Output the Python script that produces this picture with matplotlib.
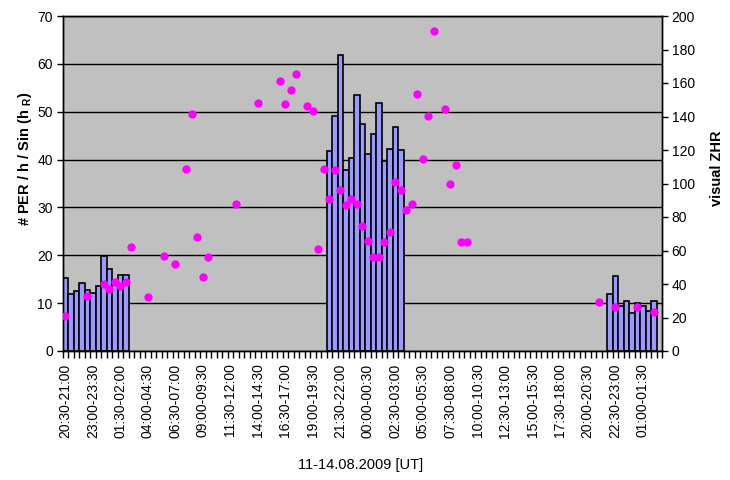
import numpy as np
import matplotlib
matplotlib.use("Agg")
import matplotlib.pyplot as plt

plt.rcParams['font.family'] = ['Liberation Sans', 'DejaVu Sans']
plt.rcParams['mathtext.fontset'] = 'custom'
plt.rcParams['mathtext.rm'] = 'Liberation Sans'
plt.rcParams['mathtext.bf'] = 'Liberation Sans:bold'

# half-hour bins starting 11.08.2009 20:30 UT
n_bins = 109
start_min = 20 * 60 + 30
categories = []
for i in range(n_bins):
    a = (start_min + 30 * i) % 1440
    b = (a + 30) % 1440
    categories.append("%02d:%02d-%02d:%02d" % (a // 60, a % 60, b // 60, b % 60))
label_step = 5

# bars: # PER / h / sin(hR)  (left axis)
bar_bins = [0, 1, 2, 3, 4, 5, 6, 7, 8, 9, 10, 11,
            48, 49, 50, 51, 52, 53, 54, 55, 56, 57, 58, 59, 60, 61,
            99, 100, 101, 102, 103, 104, 105, 106, 107]
per_rate = [15.2, 11.9, 12.5, 14.2, 12.7, 12.1, 13.6, 19.8, 17.1, 14.1, 15.9, 15.9,
            41.7, 49.2, 61.8, 37.8, 40.3, 53.4, 47.4, 41.1, 45.3, 51.8, 39.7, 42.2, 46.9, 41.9,
            11.9, 15.6, 9.3, 10.4, 7.9, 10.0, 9.5, 8.4, 10.4]

# dots: visual ZHR (right axis)
zhr_bins = [0, 4, 7, 8, 9, 10, 11, 12, 15, 18, 20, 22, 23, 24, 25, 26, 31, 35,
            39, 40, 41, 42, 44, 45, 46, 47, 48, 49, 50, 51, 52, 53, 54, 55, 56, 57,
            58, 59, 60, 61, 62, 63, 64, 65, 66, 67, 69, 70, 71, 72, 73,
            97, 100, 104, 107]
zhr = [20.7, 32.7, 40.2, 37.0, 41.2, 38.8, 41.0, 61.9, 32.0, 56.5, 52.0, 108.7, 141.5, 68.0, 44.0, 56.0, 87.8, 148.0,
       161.0, 147.6, 156.0, 165.6, 146.1, 143.1, 61.1, 108.8, 90.7, 108.2, 96.3, 87.3, 90.9, 87.9, 74.4, 65.5, 56.3, 55.9,
       64.9, 70.9, 100.7, 96.3, 84.2, 87.9, 153.4, 114.6, 140.1, 190.9, 144.5, 99.9, 111.0, 64.9, 65.3,
       29.1, 26.1, 26.1, 23.1]

fig = plt.figure(figsize=(7.3, 4.8), dpi=100)
ax = fig.add_axes([62.5 / 730, 1 - 351 / 480, (662 - 62.5) / 730, (351 - 16) / 480])
ax.set_facecolor('#C0C0C0')

ax.bar(bar_bins, per_rate, width=1.0, color='#9999FF', edgecolor='black', linewidth=1.2, zorder=2)
ax.set_xlim(-0.5, n_bins - 0.5)
ax.set_ylim(0, 70)
ax.set_yticks(np.arange(0, 71, 10))
ax.yaxis.grid(True, color='black', linewidth=1.0, zorder=1)
ax.set_axisbelow(True)

ax.set_xticks(np.arange(0, n_bins, label_step))
ax.set_xticklabels(categories[::label_step], rotation=90, fontsize=10)
ax.set_xticks(np.arange(-0.5, n_bins, 1), minor=True)
ax.tick_params(axis='x', which='major', length=0, pad=9)
ax.tick_params(axis='x', which='minor', length=5, width=1, direction='out')
ax.tick_params(axis='y', length=4, width=1, labelsize=10, pad=3)

ax2 = ax.twinx()
ax2.plot(zhr_bins, zhr, 'o', color='#FF00FF', markersize=6, markeredgewidth=0, zorder=3)
ax2.set_ylim(0, 200)
ax2.set_yticks(np.arange(0, 201, 20))
ax2.tick_params(axis='y', length=4, width=1, labelsize=10, pad=3)

for a in (ax, ax2):
    for s in a.spines.values():
        s.set_color('black')
        s.set_linewidth(1.0)

fig.text(25 / 730, 1 - 159 / 480, r'# PER / h / Sin (h $_\mathbf{R}$)', rotation=90,
         ha='center', va='center', fontsize=10.5, fontweight='bold')
fig.text(717 / 730, 1 - 168 / 480, 'visual ZHR', rotation=90,
         ha='center', va='center', fontsize=10.5, fontweight='bold')
fig.text(361 / 730, 1 - 465 / 480, '11-14.08.2009 [UT]', ha='center', va='center', fontsize=10.5)

fig.savefig('out.png', dpi=100)
